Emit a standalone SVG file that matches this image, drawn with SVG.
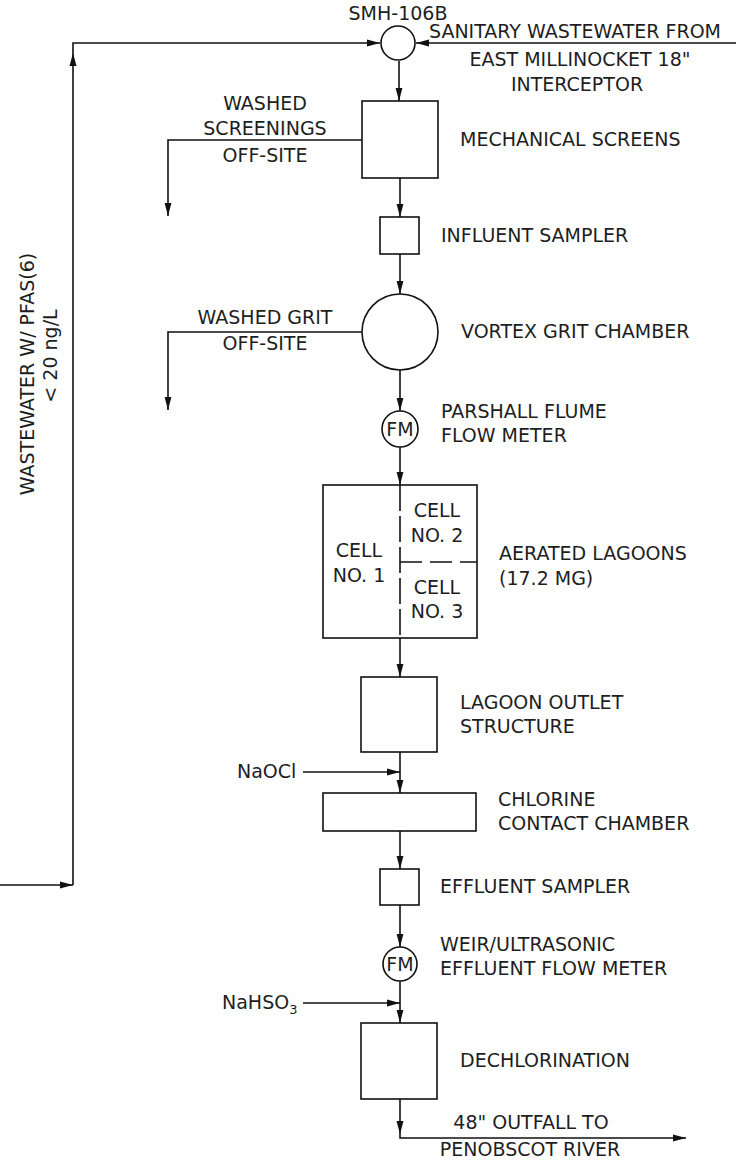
<svg xmlns="http://www.w3.org/2000/svg" width="736" height="1161" viewBox="0 0 736 1161">
<style>
text{font-family:"DejaVu Sans","Liberation Sans",sans-serif;font-size:19px;fill:#1e1e1e;}
.c{text-anchor:middle;}
.sh{fill:#fff;stroke:#111;stroke-width:1.6;}
.ln{fill:none;stroke:#111;stroke-width:1.6;}
.dv{fill:none;stroke:#111;stroke-width:1.6;stroke-dasharray:26 5;}
.dh{fill:none;stroke:#111;stroke-width:1.6;stroke-dasharray:22 8;}
</style>
<defs>
<marker id="ah" viewBox="0 0 13 8" refX="13" refY="4" markerWidth="13" markerHeight="8" markerUnits="userSpaceOnUse" orient="auto">
<path d="M0,0.6 L13,4 L0,7.4 Z" fill="#111"/>
</marker>
</defs>
<g id="connectors">
<path class="ln" d="M0,885 H73" marker-end="url(#ah)"/>
<path class="ln" d="M73,885 V43 H380" marker-end="url(#ah)"/>
<polygon points="73,53 69.5,66 76.5,66" fill="#111"/>
<path class="ln" d="M736,43 H416" marker-end="url(#ah)"/>
<path class="ln" d="M399,61 V101" marker-end="url(#ah)"/>
<path class="ln" d="M362,140 H168 V216" marker-end="url(#ah)"/>
<path class="ln" d="M400,178 V217" marker-end="url(#ah)"/>
<path class="ln" d="M400,254 V294" marker-end="url(#ah)"/>
<path class="ln" d="M362,332 H168 V410" marker-end="url(#ah)"/>
<path class="ln" d="M400,370 V411" marker-end="url(#ah)"/>
<path class="ln" d="M400,447 V485" marker-end="url(#ah)"/>
<path class="ln" d="M400,638 V677" marker-end="url(#ah)"/>
<path class="ln" d="M400,752 V793" marker-end="url(#ah)"/>
<path class="ln" d="M303,772 H400" marker-end="url(#ah)"/>
<path class="ln" d="M400,831 V869" marker-end="url(#ah)"/>
<path class="ln" d="M400,905 V947" marker-end="url(#ah)"/>
<path class="ln" d="M400,981 V1023" marker-end="url(#ah)"/>
<path class="ln" d="M303,1003 H400" marker-end="url(#ah)"/>
<path class="ln" d="M400,1099 V1138 H686" marker-end="url(#ah)"/>
<polygon points="400,1134 396.5,1121 403.5,1121" fill="#111"/>
</g>
<g id="smh106b">
<circle class="sh" cx="398" cy="43" r="17"/>
<text class="c" x="398" y="20">SMH-106B</text>
</g>
<g id="source">
<text x="429" y="38">SANITARY WASTEWATER FROM</text>
<text class="c" x="580" y="66">EAST MILLINOCKET 18"</text>
<text class="c" x="577" y="91">INTERCEPTOR</text>
</g>
<g id="recycle-label">
<text class="c" transform="translate(34,374) rotate(-90)">WASTEWATER W/ PFAS(6)</text>
<text class="c" transform="translate(57,356) rotate(-90)">&lt; 20 ng/L</text>
</g>
<g id="mechanical-screens">
<rect class="sh" x="362" y="101" width="76" height="77"/>
<text x="460" y="146">MECHANICAL SCREENS</text>
</g>
<g id="washed-screenings">
<text class="c" x="265" y="110">WASHED</text>
<text class="c" x="265" y="135">SCREENINGS</text>
<text class="c" x="265" y="162">OFF-SITE</text>
</g>
<g id="influent-sampler">
<rect class="sh" x="380" y="217" width="39" height="37"/>
<text x="441" y="242">INFLUENT SAMPLER</text>
</g>
<g id="vortex-grit-chamber">
<circle class="sh" cx="400" cy="332" r="38"/>
<text x="461" y="338">VORTEX GRIT CHAMBER</text>
</g>
<g id="washed-grit">
<text class="c" x="265" y="324">WASHED GRIT</text>
<text class="c" x="265" y="350">OFF-SITE</text>
</g>
<g id="parshall-flume">
<circle class="sh" cx="400" cy="429" r="18"/>
<text class="c" x="400" y="436">FM</text>
<text x="441" y="418">PARSHALL FLUME</text>
<text x="441" y="442">FLOW METER</text>
</g>
<g id="aerated-lagoons">
<rect class="sh" x="323" y="485" width="154" height="153"/>
<path class="dv" d="M400,485 V638"/>
<path class="dh" d="M400,562 H477"/>
<text class="c" x="359" y="557">CELL</text>
<text class="c" x="359" y="582">NO. 1</text>
<text class="c" x="437" y="517">CELL</text>
<text class="c" x="437" y="542">NO. 2</text>
<text class="c" x="437" y="594">CELL</text>
<text class="c" x="437" y="618">NO. 3</text>
<text x="499" y="560">AERATED LAGOONS</text>
<text x="499" y="585">(17.2 MG)</text>
</g>
<g id="lagoon-outlet">
<rect class="sh" x="361" y="677" width="76" height="75"/>
<text x="460" y="709">LAGOON OUTLET</text>
<text x="460" y="733">STRUCTURE</text>
</g>
<g id="naocl">
<text x="237" y="778">NaOCl</text>
</g>
<g id="chlorine-contact">
<rect class="sh" x="323" y="793" width="153" height="38"/>
<text x="498" y="806">CHLORINE</text>
<text x="498" y="830">CONTACT CHAMBER</text>
</g>
<g id="effluent-sampler">
<rect class="sh" x="380" y="869" width="39" height="36"/>
<text x="440" y="893">EFFLUENT SAMPLER</text>
</g>
<g id="effluent-flow-meter">
<circle class="sh" cx="400" cy="964" r="17"/>
<text class="c" x="400" y="971">FM</text>
<text x="440" y="951">WEIR/ULTRASONIC</text>
<text x="440" y="975">EFFLUENT FLOW METER</text>
</g>
<g id="nahso3">
<text x="222" y="1009">NaHSO<tspan font-size="13" dy="5">3</tspan></text>
</g>
<g id="dechlorination">
<rect class="sh" x="361" y="1023" width="76" height="76"/>
<text x="460" y="1067">DECHLORINATION</text>
</g>
<g id="outfall">
<text class="c" x="531" y="1129">48" OUTFALL TO</text>
<text class="c" x="530" y="1156">PENOBSCOT RIVER</text>
</g>
</svg>
